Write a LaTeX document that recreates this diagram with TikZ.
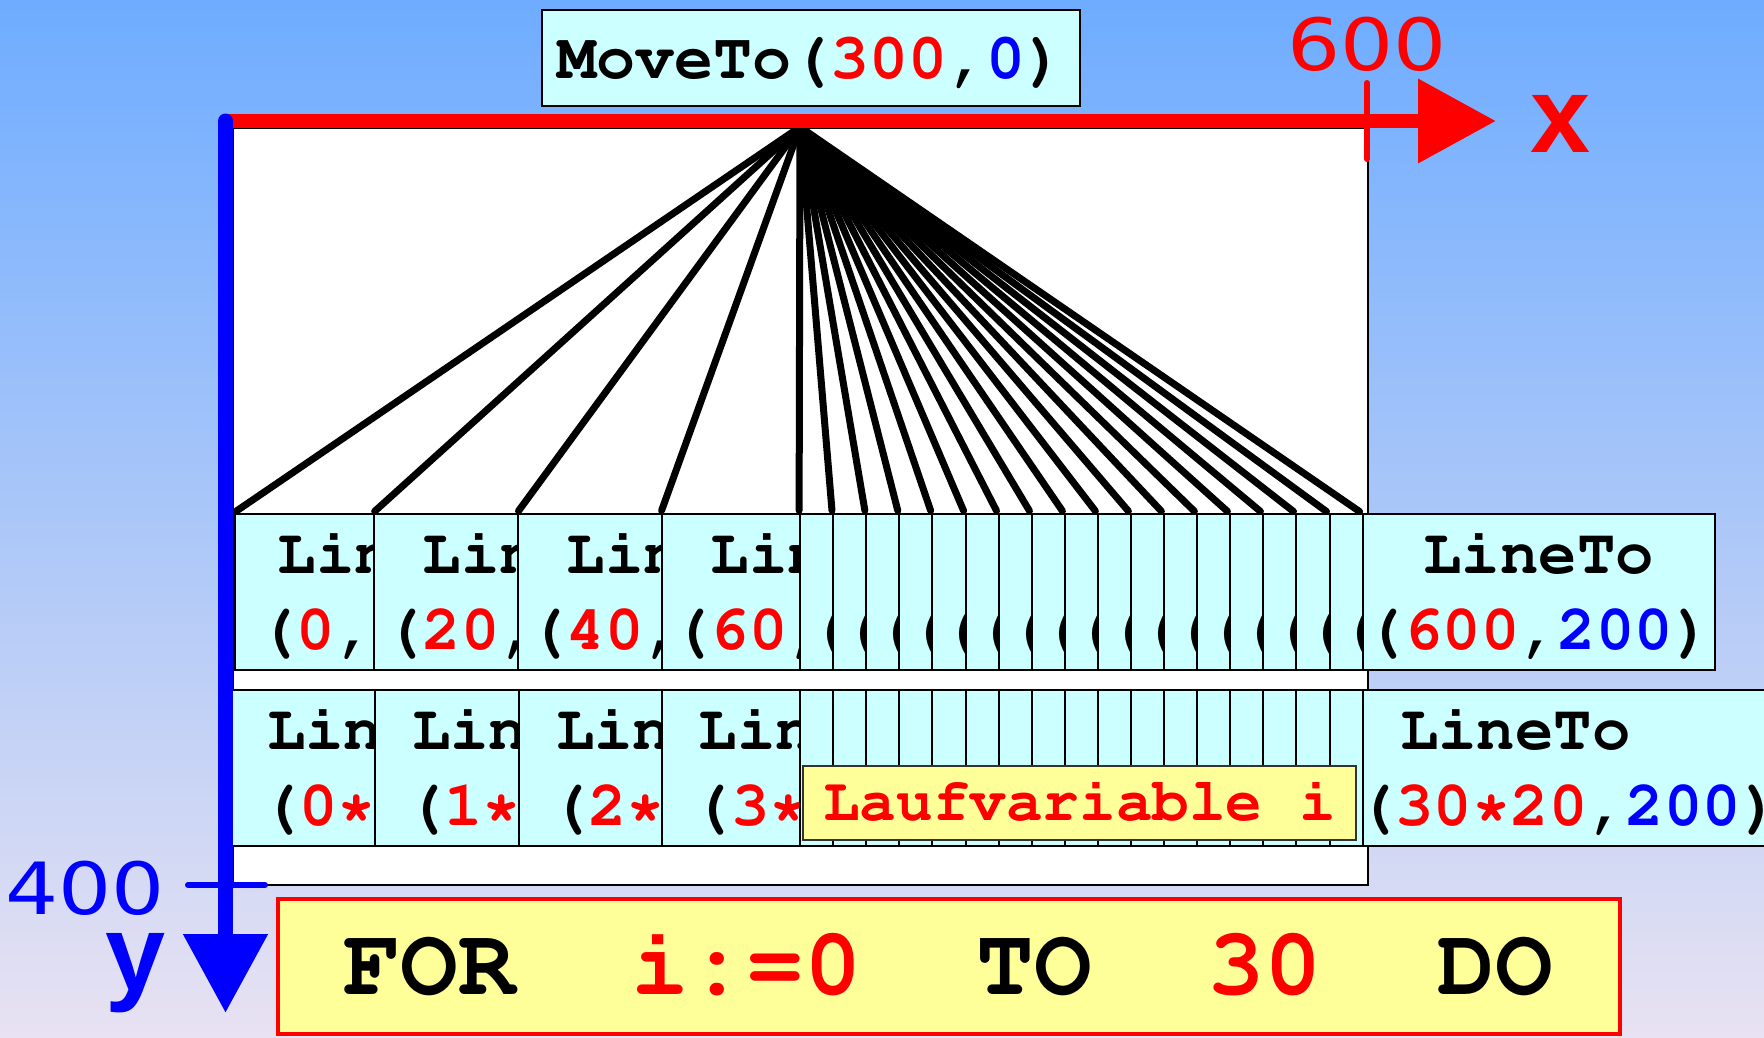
\documentclass[tikz,border=0pt]{standalone}
\usepackage[T1]{fontenc}
\usepackage{fontspec}
\usepackage{graphicx}
\usetikzlibrary{arrows.meta}

\newfontfamily\axisfont{DejaVu Sans}
\newfontfamily\axisboldfont{Liberation Sans}
\newcommand\codefont[1]{\fontencoding{T1}\fontfamily{pcr}\fontseries{b}\fontshape{n}\fontsize{#1}{76}\selectfont}
\newcommand\xval[1]{\textcolor{red}{#1}}
\newcommand\yval[1]{\textcolor{blue}{#1}}
\newcommand\lttext[1]{\rule{0pt}{59pt}LineTo\\#1\rule[-21pt]{0pt}{21pt}}
\newcommand\lttextb[1]{\rule{0pt}{59pt}LineTo\\\hspace*{-6pt}#1\rule[-21pt]{0pt}{21pt}}

\definecolor{boxcyan}{RGB}{204,255,255}
\definecolor{boxyellow}{RGB}{255,255,153}
\definecolor{bgtop}{RGB}{110,172,255}
\definecolor{bgmid}{RGB}{156,198,246}
\definecolor{bgbot}{RGB}{232,226,242}

\tikzset{
  canvas/.style={fill=white, draw=black, line width=2pt},
  linebox/.style={fill=boxcyan, draw=black, line width=2pt, anchor=north west,
    inner ysep=0pt, font=\codefont{64}},
  rowone/.style={linebox, align=center, inner xsep=10.5pt},
  rowtwo/.style={linebox, align=left, inner xsep=37pt},
  fanline/.style={line width=7pt, line cap=round, shorten >=2.5pt},
  movebox/.style={fill=boxcyan, draw=black, line width=2.5pt, font=\codefont{65},
    minimum width=538pt, minimum height=96pt, text height=40pt, text depth=0pt},
  varbox/.style={fill=boxyellow, draw=black!80, line width=2pt, font=\codefont{61},
    text=red, minimum width=553pt, minimum height=74pt, text height=34pt, text depth=0pt},
  forbox/.style={fill=boxyellow, draw=red, line width=4pt},
  axislabel/.style={font=\axisfont\fontsize{72}{80}\selectfont, inner sep=0pt},
  axisname/.style={font=\axisboldfont\bfseries\fontsize{108}{120}\selectfont, inner sep=0pt}
}

\begin{document}
\begin{tikzpicture}[x=1pt, y=-1pt]
    \useasboundingbox (0,0) rectangle (1764,1037);
    % background
    \shade[top color=bgtop, middle color=bgmid, bottom color=bgbot] (0,0) rectangle (1764,1037);

    % drawing area
    \draw[canvas] (233,128) rectangle (1368,885);
    \coordinate (apex) at (800,127);
    \coordinate (origin) at (225.5,121);
    \coordinate (xtip) at (1496,121);
    \coordinate (ytip) at (225.5,1013);

    % first row: LineTo(x,200)
    \node[rowone, inner xsep=24pt] (lt1-0) at (233.5,513) {\lttext{(\xval{0},\yval{200})}};
    \node[rowone] (lt1-1) at (372.8,513) {\lttext{(\xval{20},\yval{200})}};
    \node[rowone] (lt1-2) at (517,513) {\lttext{(\xval{40},\yval{200})}};
    \node[rowone] (lt1-3) at (660.7,513) {\lttext{(\xval{60},\yval{200})}};
    \foreach \k in {0,...,16}{
      \pgfmathsetmacro\bx{799.1+33.09*\k}
      \pgfmathtruncatemacro\bv{80+20*\k}
      \pgfmathtruncatemacro\bn{\k+4}
      \node[rowone] (lt1-\bn) at (\bx,513) {\lttext{(\xval{\bv},\yval{200})}};
    }
    \node[rowone, inner xsep=3.2pt] (lt1-21) at (1361.7,513) {\lttext{(\xval{600},\yval{200})}};

    % second row: LineTo(i*20,200)
    \node[rowtwo] (lt2-0) at (229,689) {\lttextb{(\xval{0*20},\yval{200})}};
    \node[rowtwo] (lt2-1) at (374,689) {\lttextb{(\xval{1*20},\yval{200})}};
    \node[rowtwo] (lt2-2) at (518,689) {\lttextb{(\xval{2*20},\yval{200})}};
    \node[rowtwo] (lt2-3) at (660.7,689) {\lttextb{(\xval{3*20},\yval{200})}};
    \foreach \k in {0,...,16}{
      \pgfmathsetmacro\bx{799.1+33.09*\k}
      \pgfmathtruncatemacro\bn{\k+4}
      \node[rowtwo] (lt2-\bn) at (\bx,689) {\lttextb{(\xval{\bn*20},\yval{200})}};
    }
    \node[rowtwo, inner xsep=0.5pt] (lt2-21) at (1361.5,689)
      {\rule{0pt}{59pt}\hspace*{37pt}LineTo\\\hspace*{-6pt}(\xval{30*20},\yval{200})\rule[-21pt]{0pt}{21pt}};

    \node[varbox] (laufvar) at (1079.5,803) {Laufvariable i};

    % fan of lines
    \foreach \n in {0,...,21}
      \draw[fanline] (apex) -- (lt1-\n.north west);

    % axes
    \draw[red, line width=14pt, -{Triangle[length=78pt, width=81pt]}] (origin) -- (xtip);
    \draw[blue, line width=15pt, line cap=round, -{Triangle[length=79pt, width=81pt]}] (origin) -- (ytip);
    \draw[red, line width=6pt, line cap=round] (1367,83) -- (1367,159);
    \draw[blue, line width=6pt, line cap=round] (188,885) -- (265,885);
    \node[axislabel, red, anchor=base] (xmax) at (1367,70) {\scalebox{1.16}[1]{600}};
    \node[axislabel, blue, anchor=base east] (ymax) at (165,914) {\scalebox{1.16}[1]{400}};
    \node[axisname, red, anchor=base west] (xname) at (1530,152) {x};
    \node[axisname, blue, anchor=base west] (yname) at (105,990) {y};

    % MoveTo and loop head
    \node[movebox] (moveto) at (811,58) {MoveTo(\xval{300},\yval{0})};
    \node[forbox, minimum width=1342pt, minimum height=135pt] (forloop) at (949,966.5) {};
    \node[font=\codefont{96}, inner sep=0pt, anchor=base west] (forhead) at (343,994)
      {FOR\ \ \xval{i:=0}\ \ TO\ \ \xval{30}\ \ DO};
\end{tikzpicture}
\end{document}
